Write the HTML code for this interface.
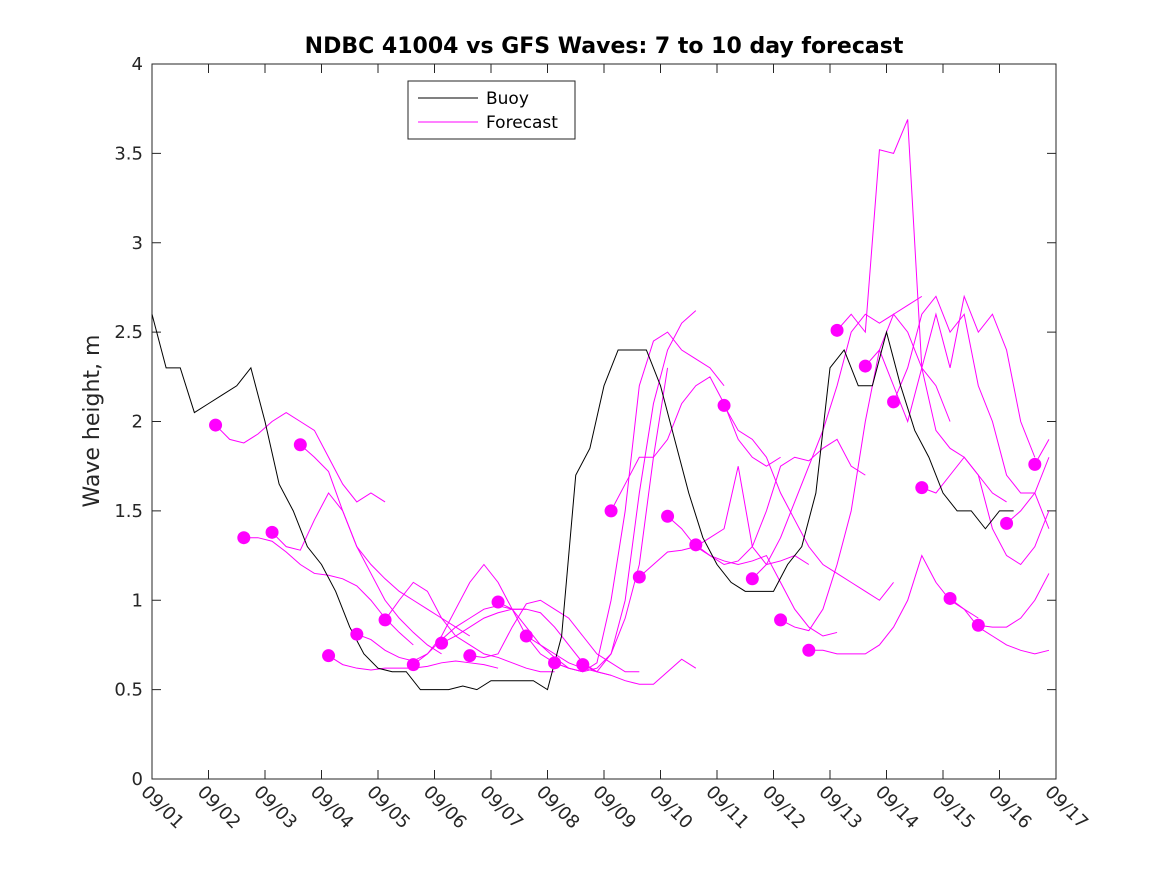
<!DOCTYPE html>
<html><head><meta charset="utf-8"><style>
body{margin:0;background:#fff;}
svg{display:block;font-family:"DejaVu Sans","Liberation Sans",sans-serif;}
</style></head><body>
<svg id="chart" width="1167" height="875" viewBox="0 0 1167 875">
<rect width="1167" height="875" fill="#fff"/>
<text x="604" y="53" text-anchor="middle" font-size="22" font-weight="bold">NDBC 41004 vs GFS Waves: 7 to 10 day forecast</text>
<rect x="152" y="64" width="904" height="715" fill="#fff" stroke="#262626" stroke-width="1"/>
<g id="grid"></g>
<g id="series"></g>
<text transform="translate(99,421) rotate(-90)" text-anchor="middle" font-size="22" fill="#262626">Wave height, m</text>
<g>
<rect x="408" y="81" width="167" height="58" fill="#fff" stroke="#262626"/>
<line x1="418" y1="98" x2="478" y2="98" stroke="#000"/>
<text x="486" y="104" font-size="17">Buoy</text>
<line x1="418" y1="122" x2="478" y2="122" stroke="#f0f"/>
<text x="486" y="128" font-size="17">Forecast</text>
</g>
</svg>
<script>
const xTickLabels=["09/01","09/02","09/03","09/04","09/05","09/06","09/07","09/08","09/09","09/10","09/11","09/12","09/13","09/14","09/15","09/16","09/17"];
const yTicks=[0,0.5,1,1.5,2,2.5,3,3.5,4];
const yTickLabels=["0","0.5","1","1.5","2","2.5","3","3.5","4"];
const buoyStep=0.25;
const buoyValues=[2.6,2.3,2.3,2.05,2.1,2.15,2.2,2.3,2.0,1.65,1.5,1.3,1.2,1.05,0.85,0.7,0.62,0.6,0.6,0.5,0.5,0.5,0.52,0.5,0.55,0.55,0.55,0.55,0.5,0.8,1.7,1.85,2.2,2.4,2.4,2.4,2.2,1.9,1.6,1.35,1.2,1.1,1.05,1.05,1.05,1.2,1.3,1.6,2.3,2.4,2.2,2.2,2.5,2.2,1.95,1.8,1.6,1.5,1.5,1.4,1.5,1.5];
const fcStart=1.125, fcSpacing=0.5, fcStep=0.25;
const forecasts=[
[1.98,1.9,1.88,1.93,2.0,2.05,2.0,1.95,1.8,1.65,1.55,1.6,1.55],
[1.35,1.35,1.33,1.27,1.2,1.15,1.14,1.12,1.08,1.0,0.9,0.82,0.75],
[1.38,1.3,1.28,1.45,1.6,1.5,1.3,1.15,1.0,0.9,0.82,0.75,0.7],
[1.87,1.8,1.72,1.5,1.3,1.2,1.12,1.05,1.0,0.95,0.9,0.85,0.8],
[0.69,0.64,0.62,0.61,0.62,0.62,0.62,0.63,0.65,0.66,0.65,0.64,0.62],
[0.81,0.78,0.72,0.68,0.66,0.7,0.78,0.85,0.9,0.95,0.97,0.95,0.95],
[0.89,1.0,1.1,1.05,0.9,0.8,0.75,0.7,0.68,0.65,0.62,0.6,0.6],
[0.64,0.7,0.8,0.95,1.1,1.2,1.1,0.95,0.8,0.7,0.65,0.62,0.6],
[0.76,0.8,0.85,0.9,0.93,0.95,0.95,0.93,0.85,0.75,0.65,0.6,0.58],
[0.69,0.68,0.7,0.85,0.98,1.0,0.95,0.9,0.8,0.7,0.65,0.6,0.6],
[0.99,0.95,0.85,0.75,0.68,0.62,0.6,0.62,0.7,0.9,1.2,1.8,2.3],
[0.8,0.75,0.7,0.65,0.62,0.6,0.7,1.0,1.6,2.1,2.4,2.55,2.62],
[0.65,0.62,0.6,0.65,1.0,1.5,2.2,2.45,2.5,2.4,2.35,2.3,2.2],
[0.64,0.6,0.58,0.55,0.53,0.53,0.6,0.67,0.62],
[1.5,1.65,1.8,1.8,1.9,2.1,2.2,2.25,2.1,1.9,1.8,1.75,1.8],
[1.13,1.2,1.27,1.28,1.3,1.35,1.4,1.75,1.3,1.2,1.22,1.25,1.2],
[1.47,1.4,1.3,1.25,1.22,1.2,1.22,1.25,1.1,0.95,0.85,0.8,0.82],
[1.31,1.25,1.2,1.22,1.3,1.5,1.75,1.8,1.78,1.85,1.9,1.75,1.7],
[2.09,1.95,1.9,1.8,1.6,1.45,1.3,1.2,1.15,1.1,1.05,1.0,1.1],
[1.12,1.2,1.35,1.55,1.75,1.95,2.2,2.5,2.6,2.55,2.6,2.65,2.7],
[0.89,0.85,0.83,0.95,1.2,1.5,2.0,2.4,2.6,2.5,2.3,2.2,2.0],
[0.72,0.72,0.7,0.7,0.7,0.75,0.85,1.0,1.25,1.1,1.0,0.95,0.9],
[2.51,2.6,2.5,3.52,3.5,3.69,2.3,1.95,1.85,1.8,1.7,1.6,1.55],
[2.31,2.4,2.2,2.0,2.3,2.6,2.3,2.7,2.5,2.6,2.4,2.0,1.8],
[2.11,2.3,2.6,2.7,2.5,2.6,2.2,2.0,1.7,1.6,1.6,1.4,1.3],
[1.63,1.6,1.7,1.8,1.7,1.4,1.25,1.2,1.3,1.5,1.8,2.5,2.5],
[1.01,0.95,0.85,0.8,0.75,0.72,0.7,0.72,0.8,0.95,1.05,1.0,0.9],
[0.86,0.85,0.85,0.9,1.0,1.15,1.3,1.3,1.1,1.0,0.85,0.75,0.7],
[1.43,1.5,1.6,1.8,1.85,1.75,1.6],
[1.76,1.9,2.1,2.0,1.6]
];
const X0=152,X1=1056,Y0=779,Y1=64,DMAX=16,VMAX=4;
const sx=d=>X0+(X1-X0)*d/DMAX;
const sy=v=>Y0-(Y0-Y1)*v/VMAX;
const NS="http://www.w3.org/2000/svg";
const grid=document.getElementById('grid'),ser=document.getElementById('series');
function mk(tag,attrs,parent){const e=document.createElementNS(NS,tag);for(const k in attrs)e.setAttribute(k,attrs[k]);parent.appendChild(e);return e;}
yTicks.forEach((v,i)=>{
  const t=mk('path',{d:`M${X0},${sy(v)}h9M${X1},${sy(v)}h-9`,stroke:'#262626'},grid);
  
  
  const l=mk('text',{x:X0-9,y:sy(v)+6,'text-anchor':'end','font-size':'18',fill:'#262626'},grid);
  l.textContent=yTickLabels[i];
  
  
});
xTickLabels.forEach((s,i)=>{
  const x=sx(i);
  const t=mk('path',{d:`M${x},${Y0}v-9M${x},${Y1}v9`,stroke:'#262626'},grid);
  
  
  const l=mk('text',{transform:`translate(${x-12},${Y0+14}) rotate(45)`,'font-size':'18',fill:'#262626'},grid);
  l.textContent=s;
  
  
});
forecasts.forEach((f,k)=>{
  const t0=fcStart+k*fcSpacing;
  const pts=f.map((v,j)=>[Math.min(sx(t0+j*fcStep),X1),sy(v)]).filter((p,j)=>t0+j*fcStep<=DMAX+0.01);
  const p=mk('polyline',{points:pts.map(q=>q.join(',')).join(' '),fill:'none',stroke:'#f0f','stroke-width':'1'},ser);
  
  
});
const bp=mk('polyline',{points:buoyValues.map((v,i)=>sx(i*buoyStep)+','+sy(v)).join(' '),fill:'none',stroke:'#000','stroke-width':'1'},ser);


forecasts.forEach((f,k)=>{
  const c=mk('circle',{cx:sx(fcStart+k*fcSpacing),cy:sy(f[0]),r:6.5,fill:'#f0f'},ser);
  
  
});
</script>
</body></html>
